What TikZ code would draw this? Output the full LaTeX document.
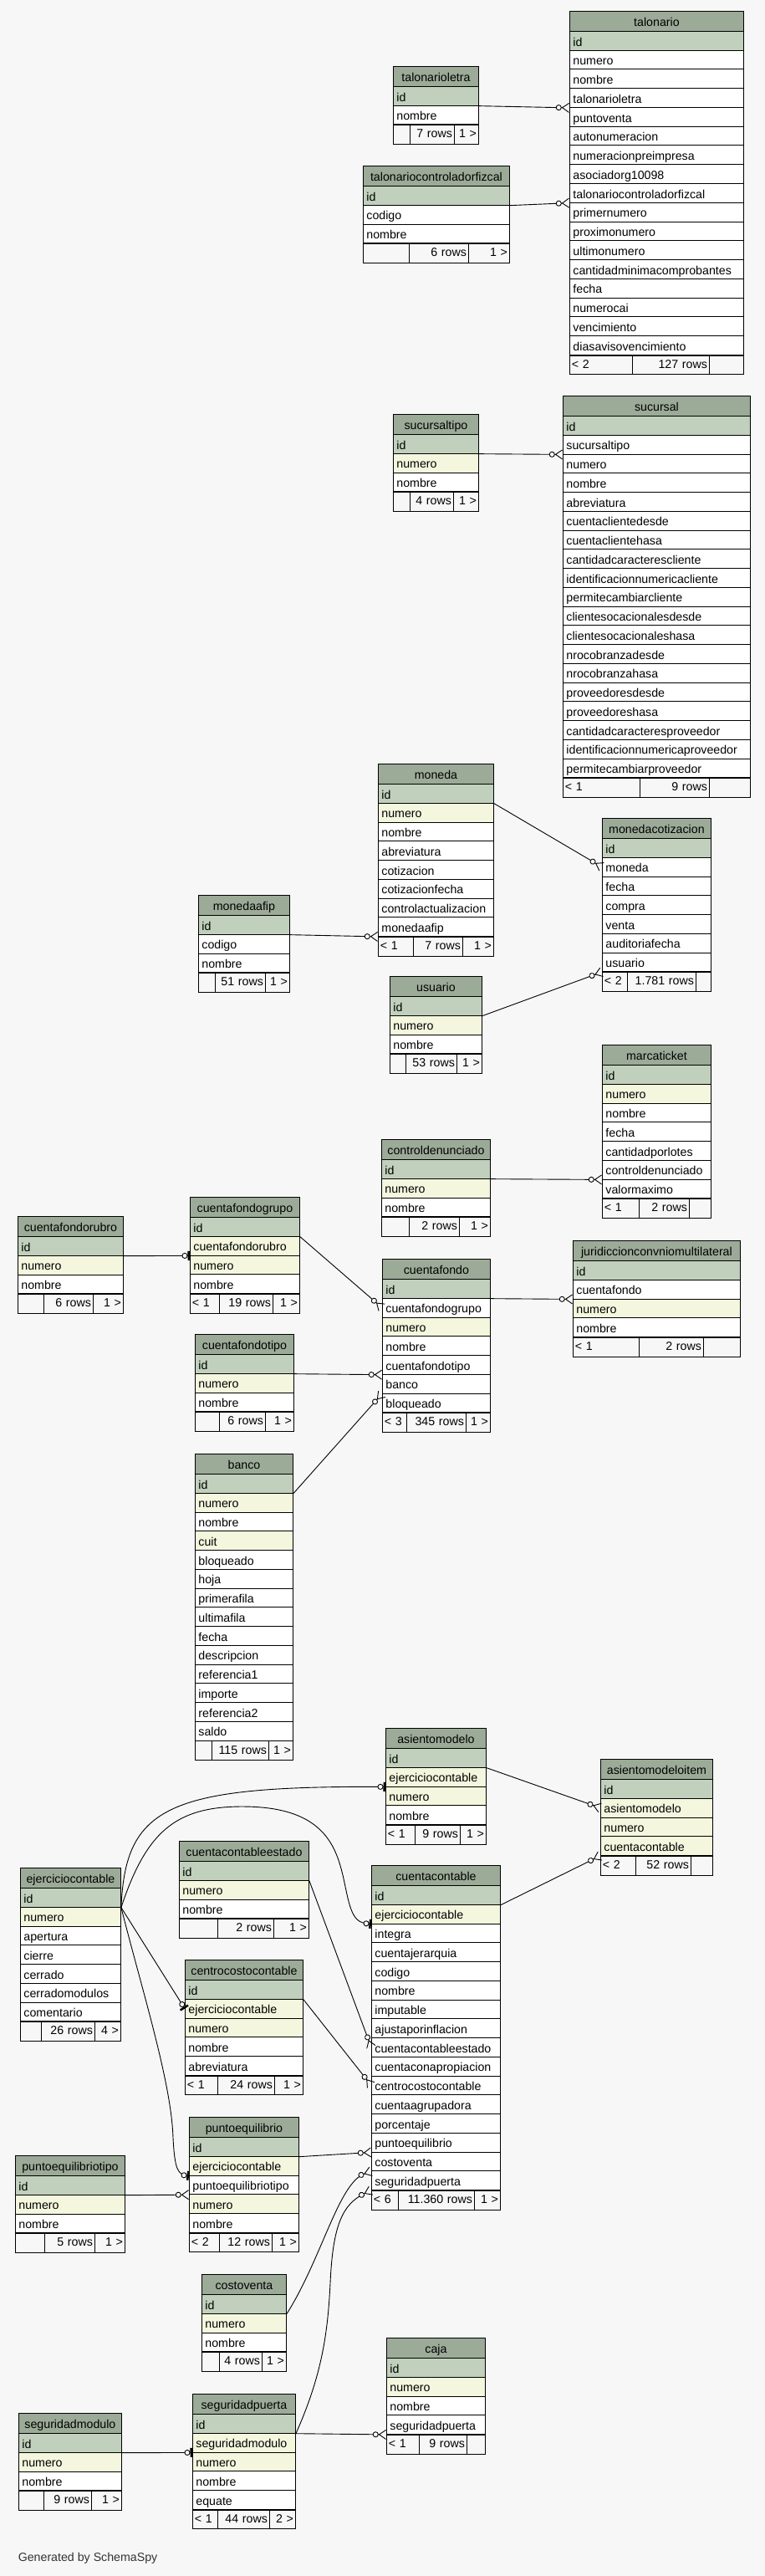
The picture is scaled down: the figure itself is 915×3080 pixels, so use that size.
\documentclass[tikz,border=0pt]{standalone}
\usepackage{fontspec}
\setmainfont{Liberation Sans}
\usetikzlibrary{arrows.meta}

\definecolor{bggray}{HTML}{F7F7F7}
\definecolor{fillh}{HTML}{9CAA98}
\definecolor{fillk}{HTML}{C0D0BC}
\definecolor{filly}{HTML}{F4F7DE}
\definecolor{fillw}{HTML}{FFFFFF}
\definecolor{fillf}{HTML}{F7F7F7}

% #1 name, #2 x, #3 y, #4 width, #5 kind/field list, #6 footer a/b/left/middle/right
\newcommand{\dbtable}[6]{%
    \pgfmathsetmacro{\rowtw}{#4-8}
    \node[tblhead, minimum width=#4pt] (#1) at (#2,#3) {#1};
    \foreach \kind/\field [count=\i from 0] in {#5}
        {
            \node[tblrow, fill=fill\kind, text width=\rowtw pt] (#1-\field) at (#2,#3+24+\i*22.75) {\field};
            \coordinate (#1-end) at (#1-\field.south west);
        }
    \foreach \fa/\fb/\fl/\fm/\fr in {#6}
        {
            \pgfmathsetmacro{\wl}{\fa-5}
            \pgfmathsetmacro{\wm}{\fb-\fa-5}
            \pgfmathsetmacro{\wr}{#4-\fb-5}
            \node[tblfoot, align=left, text width=\wl pt] (#1-rowsl) at (#1-end) {\mbox{\fl}};
            \node[tblfoot, align=right, text width=\wm pt, xshift=\fa pt] (#1-rowsm) at (#1-end) {\mbox{\fm}};
            \node[tblfoot, align=right, text width=\wr pt, xshift=\fb pt] (#1-rowsr) at (#1-end) {\mbox{\fr}};
        }
}

\begin{document}
\begin{tikzpicture}[x=1pt,y=-1pt,line width=0.9pt,font=\fontsize{14.2}{17}\selectfont]
    \tikzstyle{tblhead}=[draw=black,fill=fillh,anchor=north west,minimum height=24pt,inner sep=0pt,text height=13.5pt,text depth=1pt]
    \tikzstyle{tblrow}=[draw=black,anchor=north west,minimum height=22.75pt,inner xsep=4pt,inner ysep=0pt,align=left,text height=13.5pt,text depth=1pt]
    \tikzstyle{tblfoot}=[tblrow,fill=fillf,inner xsep=2.5pt,text height=11pt,text depth=3.5pt]
    \tikzstyle{many}=[-{Circle[fill=white,length=7pt] Straight Barb[reversed,length=8pt,width=11pt]}]
    \tikzstyle{zeroone}=[-{Circle[fill=white,length=7pt] Bar[width=11pt,line width=2.5pt]}]

    \fill[bggray] (0,0) rectangle (915,3080);

    \dbtable{talonarioletra}{470}{79}{102}{k/id, w/nombre}{20/73/{}/7 rows/1 >}
    \dbtable{talonariocontroladorfizcal}{434}{198}{175}{k/id, w/codigo, w/nombre}{55/126/{}/6 rows/1 >}
    \dbtable{talonario}{681}{13}{208}{k/id, w/numero, w/nombre, w/talonarioletra, w/puntoventa,
        w/autonumeracion, w/numeracionpreimpresa, w/asociadorg10098, w/talonariocontroladorfizcal,
        w/primernumero, w/proximonumero, w/ultimonumero, w/cantidadminimacomprobantes, w/fecha,
        w/numerocai, w/vencimiento, w/diasavisovencimiento}{75/167/< 2/127 rows/{}}
    \dbtable{sucursaltipo}{470}{495}{102}{k/id, y/numero, w/nombre}{20/72/{}/4 rows/1 >}
    \dbtable{sucursal}{673}{473}{224}{k/id, w/sucursaltipo, w/numero, w/nombre, w/abreviatura,
        w/cuentaclientedesde, w/cuentaclientehasa, w/cantidadcaracterescliente,
        w/identificacionnumericacliente, w/permitecambiarcliente, w/clientesocacionalesdesde,
        w/clientesocacionaleshasa, w/nrocobranzadesde, w/nrocobranzahasa, w/proveedoresdesde,
        w/proveedoreshasa, w/cantidadcaracteresproveedor, w/identificacionnumericaproveedor,
        w/permitecambiarproveedor}{92/175/< 1/9 rows/{}}
    \dbtable{moneda}{452}{913}{138}{k/id, y/numero, w/nombre, w/abreviatura, w/cotizacion,
        w/cotizacionfecha, w/controlactualizacion, w/monedaafip}{42/101/< 1/7 rows/1 >}
    \dbtable{monedaafip}{237}{1070}{109}{k/id, w/codigo, w/nombre}{20/80/{}/51 rows/1 >}
    \dbtable{usuario}{466}{1167}{110}{k/id, y/numero, w/nombre}{19/80/{}/53 rows/1 >}
    \dbtable{monedacotizacion}{720}{978}{130}{k/id, w/moneda, w/fecha, w/compra, w/venta,
        w/auditoriafecha, w/usuario}{30/112/< 2/1.781 rows/{}}
    \dbtable{marcaticket}{720}{1249}{130}{k/id, y/numero, w/nombre, w/fecha, w/cantidadporlotes,
        w/controldenunciado, w/valormaximo}{44/104/< 1/2 rows/{}}
    \dbtable{controldenunciado}{456}{1362}{130}{k/id, y/numero, w/nombre}{33/93/{}/2 rows/1 >}
    \dbtable{juridiccionconvniomultilateral}{685}{1483}{200}{k/id, w/cuentafondo, y/numero, w/nombre}{79/156/< 1/2 rows/{}}
    \dbtable{cuentafondo}{457}{1505}{129}{k/id, w/cuentafondogrupo, y/numero, w/nombre,
        w/cuentafondotipo, w/banco, w/bloqueado}{29/100/< 3/345 rows/1 >}
    \dbtable{cuentafondorubro}{21}{1454}{126}{k/id, y/numero, w/nombre}{31/90/{}/6 rows/1 >}
    \dbtable{cuentafondogrupo}{227}{1431}{131}{k/id, y/cuentafondorubro, y/numero, w/nombre}{35/99/< 1/19 rows/1 >}
    \dbtable{cuentafondotipo}{233}{1595}{118}{k/id, y/numero, w/nombre}{29/84/{}/6 rows/1 >}
    \dbtable{banco}{233}{1738}{117}{k/id, y/numero, w/nombre, y/cuit, w/bloqueado, w/hoja,
        w/primerafila, w/ultimafila, w/fecha, w/descripcion, w/referencia1, w/importe,
        w/referencia2, w/saldo}{20/88/{}/115 rows/1 >}
    \dbtable{asientomodelo}{461}{2066}{120}{k/id, y/ejerciciocontable, y/numero, w/nombre}{35/89/< 1/9 rows/1 >}
    \dbtable{asientomodeloitem}{718}{2103}{134}{k/id, y/asientomodelo, y/numero, y/cuentacontable}{42/108/< 2/52 rows/{}}
    \dbtable{cuentacontable}{444}{2230}{154}{k/id, y/ejerciciocontable, w/integra, w/cuentajerarquia,
        w/codigo, w/nombre, w/imputable, w/ajustaporinflacion, w/cuentacontableestado,
        w/cuentaconapropiacion, w/centrocostocontable, w/cuentaagrupadora, w/porcentaje,
        w/puntoequilibrio, w/costoventa, w/seguridadpuerta}{32/123/< 6/11.360 rows/1 >}
    \dbtable{ejerciciocontable}{24}{2233}{120}{k/id, y/numero, w/apertura, w/cierre, w/cerrado,
        w/cerradomodulos, w/comentario}{25/89/{}/26 rows/4 >}
    \dbtable{cuentacontableestado}{214}{2201}{155}{k/id, y/numero, w/nombre}{46/113/{}/2 rows/1 >}
    \dbtable{centrocostocontable}{221}{2343}{141}{k/id, y/ejerciciocontable, y/numero, w/nombre,
        w/abreviatura}{39/107/< 1/24 rows/1 >}
    \dbtable{puntoequilibrio}{226}{2531}{131}{k/id, y/ejerciciocontable, w/puntoequilibriotipo,
        y/numero, w/nombre}{36/99/< 2/12 rows/1 >}
    \dbtable{puntoequilibriotipo}{18}{2577}{131}{k/id, y/numero, w/nombre}{35/95/{}/5 rows/1 >}
    \dbtable{costoventa}{241}{2719}{101}{k/id, y/numero, w/nombre}{21/72/{}/4 rows/1 >}
    \dbtable{seguridadpuerta}{230}{2862}{123}{k/id, y/seguridadmodulo, y/numero, w/nombre,
        w/equate}{30/92/< 1/44 rows/2 >}
    \dbtable{seguridadmodulo}{22}{2885}{123}{k/id, y/numero, w/nombre}{30/87/{}/9 rows/1 >}
    \dbtable{caja}{462}{2795}{118}{k/id, y/numero, w/nombre, w/seguridadpuerta}{39/96/< 1/9 rows/{}}

    \node[anchor=west, text=black!80] (credit) at (18,3059) {Generated by SchemaSpy};

    % straight links
    \draw[many] (talonarioletra-id.south east) -- (talonario-talonarioletra.south west);
    \draw[many] (talonariocontroladorfizcal-id.south east) -- (talonario-talonariocontroladorfizcal.south west);
    \draw[many] (sucursaltipo-id.south east) -- (sucursal-sucursaltipo.south west);
    \draw[many] (moneda-id.south east) -- (monedacotizacion-moneda.west);
    \draw[many] (usuario-id.south east) -- (monedacotizacion-usuario.south west);
    \draw[many] (monedaafip-id.south east) -- (moneda-monedaafip.south west);
    \draw[many] (controldenunciado-id.south east) -- (marcaticket-controldenunciado.south west);
    \draw[many] (cuentafondo-id.south east) -- (juridiccionconvniomultilateral-cuentafondo.south west);
    \draw[zeroone] (cuentafondorubro-id.south east) -- (cuentafondogrupo-cuentafondorubro.south west);
    \draw[many] (cuentafondogrupo-id.south east) -- (cuentafondo-cuentafondogrupo.west);
    \draw[many] (cuentafondotipo-id.south east) -- (cuentafondo-cuentafondotipo.south west);
    \draw[many] (banco-id.south east) -- (cuentafondo-banco.south west);
    \draw[many] (asientomodelo-id.south east) -- (asientomodeloitem-asientomodelo.west);
    \draw[many] (cuentacontable-id.south east) -- (asientomodeloitem-cuentacontable.south west);
    \draw[zeroone] (ejerciciocontable-id.south east) -- (centrocostocontable-ejerciciocontable.west);
    \draw[many] (cuentacontableestado-id.south east) -- (cuentacontable-cuentacontableestado.west);
    \draw[many] (centrocostocontable-id.south east) -- (cuentacontable-centrocostocontable.west);
    \draw[many] (puntoequilibrio-id.south east) -- (cuentacontable-puntoequilibrio.south west);
    \draw[many] (puntoequilibriotipo-id.south east) -- (puntoequilibrio-puntoequilibriotipo.south west);
    \draw[zeroone] (seguridadmodulo-id.south east) -- (seguridadpuerta-seguridadmodulo.south west);
    \draw[many] (seguridadpuerta-id.south east) -- (caja-seguridadpuerta.south west);

    % curved links
    \draw[zeroone] (ejerciciocontable-id.south east) .. controls (150,2160) and (200,2135) .. (asientomodelo-ejerciciocontable.south west);
    \draw[zeroone] (ejerciciocontable-id.south east) .. controls (175,2190) and (210,2160) .. (290,2160)
        .. controls (400,2160) and (405,2220) .. (415,2265)
        .. controls (422,2298) and (430,2299) .. (cuentacontable-ejerciciocontable.south west);
    \draw[zeroone] (ejerciciocontable-id.south east) .. controls (170,2380) and (205,2490) .. (207,2556)
        .. controls (209,2595) and (213,2600) .. (puntoequilibrio-ejerciciocontable.south west);
    \draw[many] (costoventa-id.south east) .. controls (385,2700) and (405,2610) .. (cuentacontable-costoventa.south west);
    \draw[many] (seguridadpuerta-id.south east) .. controls (385,2840) and (392,2790) .. (395,2730)
        .. controls (398,2660) and (410,2635) .. (cuentacontable-seguridadpuerta.south west);
\end{tikzpicture}
\end{document}
